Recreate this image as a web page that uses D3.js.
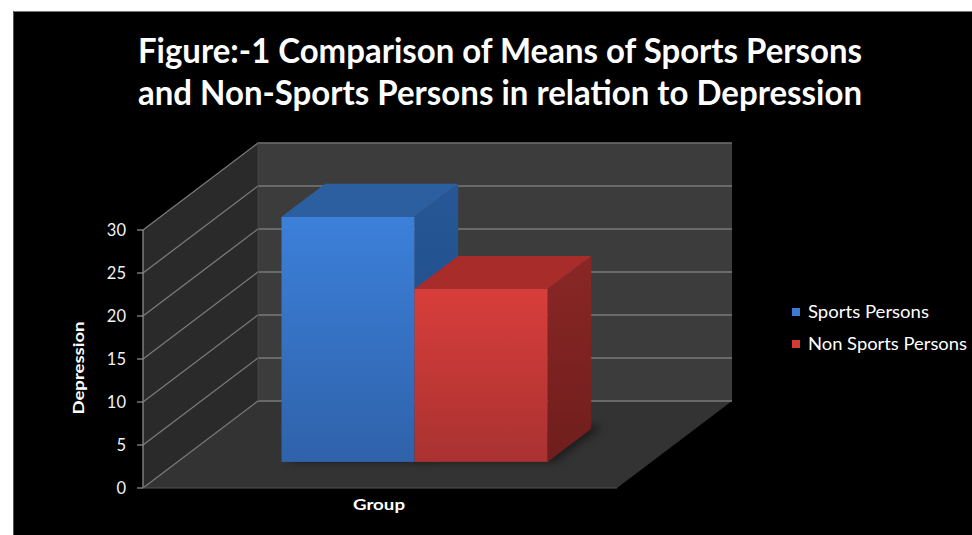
<!DOCTYPE html>
<html><head><meta charset="utf-8">
<script src="https://cdn.jsdelivr.net/npm/d3@7"></script>
<style>html,body{margin:0;padding:0;background:#fff;}svg{display:block;}</style>
</head><body>
<script>
const titleLines = ["Figure:-1 Comparison of Means of Sports Persons", "and Non-Sports Persons in relation to Depression"];
const categories = ["Group"];
const seriesNames = ["Sports Persons", "Non Sports Persons"];
const seriesValues = [28.5, 20.1];
const yTicks = [0, 5, 10, 15, 20, 25, 30];
const yLabel = "Depression";

const Wd = 972, Ht = 535;
const svg = d3.select("body").append("svg").attr("width", Wd).attr("height", Ht)
  .style("font-family", "Lato, 'Open Sans', sans-serif");

// background frame
svg.append("rect").attr("x", 0).attr("y", 0).attr("width", Wd).attr("height", Ht).attr("fill", "#fff");
svg.append("rect").attr("x", 13).attr("y", 11).attr("width", Wd - 13).attr("height", Ht - 11).attr("fill", "#000");
svg.append("line").attr("x1", 13).attr("x2", Wd).attr("y1", 11.5).attr("y2", 11.5).attr("stroke", "#777").attr("stroke-width", 1);
svg.append("line").attr("x1", 13.5).attr("x2", 13.5).attr("y1", 11).attr("y2", Ht).attr("stroke", "#555").attr("stroke-width", 1);

const defs = svg.append("defs");
function grad(id, c1, c2) {
  const g = defs.append("linearGradient").attr("id", id).attr("x1", 0).attr("y1", 0).attr("x2", 0).attr("y2", 1);
  g.append("stop").attr("offset", "0%").attr("stop-color", c1);
  g.append("stop").attr("offset", "100%").attr("stop-color", c2);
}
grad("gBlue", "#3c80da", "#2f62aa");
grad("gRed", "#d83e3b", "#a93231");
grad("gBlueSide", "#275797", "#1f4a82");
grad("gRedSide", "#8a2725", "#6f1e1d");
const shadowF = defs.append("filter").attr("id", "blur").attr("x", "-50%").attr("y", "-50%").attr("width", "200%").attr("height", "200%");
shadowF.append("feGaussianBlur").attr("stdDeviation", 4);

const frontColors = ["url(#gBlue)", "url(#gRed)"];
const topColors = ["#2c5fa0", "#a72c2a"];
const sideColors = ["url(#gBlueSide)", "url(#gRedSide)"];

// plot geometry
const X0 = 143, PW = 474;
const DX = 115, DY = -87;
const y = d3.scaleLinear().domain([0, 30]).range([488, 230]);
const x0 = d3.scaleBand().domain(categories).range([0, PW]).paddingInner(0).paddingOuter(0.391);
const x1 = d3.scaleBand().domain(seriesNames).range([0, x0.bandwidth()]).padding(0);
const P = (xf, v, d) => [X0 + xf + d * DX, y(v) + d * DY];
const poly = pts => "M" + pts.map(p => p.join(",")).join("L") + "Z";

const g = svg.append("g");
const vmin = yTicks[0], vmax = yTicks[yTicks.length - 1];

// left wall
g.append("path").attr("d", poly([P(0, vmin, 0), P(0, vmax, 0), P(0, vmax, 1), P(0, vmin, 1)])).attr("fill", "#2a2a2a");
// back wall
g.append("path").attr("d", poly([P(0, vmin, 1), P(0, vmax, 1), P(PW, vmax, 1), P(PW, vmin, 1)])).attr("fill", "#3c3c3c");
// floor
g.append("path").attr("d", poly([P(0, vmin, 0), P(PW, vmin, 0), P(PW, vmin, 1), P(0, vmin, 1)])).attr("fill", "#333333");

// gridlines
yTicks.forEach(t => {
  const a = P(0, t, 0), b = P(0, t, 1), c = P(PW, t, 1);
  g.append("path").attr("d", `M${a[0]},${a[1]}L${b[0]},${b[1]}L${c[0]},${c[1]}`)
    .attr("fill", "none").attr("stroke", "#7a7a7a").attr("stroke-width", 1.3);
});
// back wall top edge
{
  const b = P(0, vmax, 1), c = P(PW, vmax, 1);
  g.append("line").attr("x1", b[0]).attr("y1", b[1]).attr("x2", c[0]).attr("y2", c[1]).attr("stroke", "#555").attr("stroke-width", 1);
}
// vertical axis line
{
  const a = P(0, vmin, 0), b = P(0, vmax, 0);
  g.append("line").attr("x1", a[0]).attr("y1", a[1]).attr("x2", b[0]).attr("y2", b[1]).attr("stroke", "#8a8a8a").attr("stroke-width", 1.3);
  const bb = P(0, vmax, 1), ab = P(0, vmin, 1);
  g.append("line").attr("x1", ab[0]).attr("y1", ab[1]).attr("x2", bb[0]).attr("y2", bb[1]).attr("stroke", "#444").attr("stroke-width", 1);
}
// floor front edge
{
  const a = P(0, vmin, 0), b = P(PW, vmin, 0);
  g.append("line").attr("x1", a[0]).attr("y1", a[1]).attr("x2", b[0]).attr("y2", b[1]).attr("stroke", "#555").attr("stroke-width", 1);
}
yTicks.forEach(t => {
  const a = P(0, t, 0);
  g.append("line").attr("x1", a[0] - 6).attr("x2", a[0]).attr("y1", a[1]).attr("y2", a[1]).attr("stroke", "#8a8a8a").attr("stroke-width", 1.3);
  g.append("text").attr("x", a[0] - 17).attr("y", a[1]).attr("dy", "0.36em")
    .attr("text-anchor", "end").attr("fill", "#f2f2f2").attr("font-size", 16.5).text(t);
});

// bars
const d0 = 0.3, d1 = 0.68;
const bars = seriesNames.map((s, i) => ({ s, i, v: seriesValues[i], xa: x0(categories[0]) + x1(s), xb: x0(categories[0]) + x1(s) + x1.bandwidth() }));
bars.forEach(b => {
  g.append("path").attr("d", poly([P(b.xa + 4, 0, d0), P(b.xb + 8, 0, d0), P(b.xb + 8, 0, d1 + 0.04), P(b.xa + 8, 0, d1 + 0.04)]))
    .attr("fill", "#000").attr("opacity", 0.45).attr("filter", "url(#blur)");
});
bars.forEach(b => {
  g.append("path").attr("d", poly([P(b.xb, 0, d0), P(b.xb, b.v, d0), P(b.xb, b.v, d1), P(b.xb, 0, d1)])).attr("fill", sideColors[b.i]);
  g.append("path").attr("d", poly([P(b.xa, b.v, d0), P(b.xb, b.v, d0), P(b.xb, b.v, d1), P(b.xa, b.v, d1)])).attr("fill", topColors[b.i]);
  const p1 = P(b.xa, b.v, d0), p2 = P(b.xb, 0, d0);
  g.append("rect").attr("x", p1[0]).attr("y", p1[1]).attr("width", p2[0] - p1[0]).attr("height", p2[1] - p1[1]).attr("fill", frontColors[b.i]);
});

// axis titles
g.append("text").attr("x", 379).attr("y", 510).attr("text-anchor", "middle")
  .attr("fill", "#fff").attr("font-size", 16).attr("font-weight", "bold")
  .attr("textLength", 52).attr("lengthAdjust", "spacingAndGlyphs").text(categories[0]);
g.append("text").attr("transform", "translate(84,368) rotate(-90)").attr("text-anchor", "middle")
  .attr("fill", "#fff").attr("font-size", 16).attr("font-weight", "bold")
  .attr("textLength", 93).attr("lengthAdjust", "spacingAndGlyphs").text(yLabel);

// title
titleLines.forEach((t, i) => {
  svg.append("text").attr("x", 500).attr("y", 63 + i * 42).attr("text-anchor", "middle")
    .attr("fill", "#fff").attr("font-size", 34).attr("font-weight", "bold")
    .attr("textLength", 724).attr("lengthAdjust", "spacingAndGlyphs").text(t);
});

// legend
const legColors = ["#3a7bd5", "#d23a38"];
const legLens = [121, 159];
seriesNames.forEach((s, i) => {
  const ly = 312 + i * 32;
  svg.append("rect").attr("x", 792).attr("y", ly - 4).attr("width", 8).attr("height", 8).attr("fill", legColors[i]);
  svg.append("text").attr("x", 808).attr("y", ly).attr("dy", "0.35em").attr("fill", "#fff").attr("font-size", 16.5)
    .attr("textLength", legLens[i]).attr("lengthAdjust", "spacingAndGlyphs").text(s);
});
</script>
</body></html>
